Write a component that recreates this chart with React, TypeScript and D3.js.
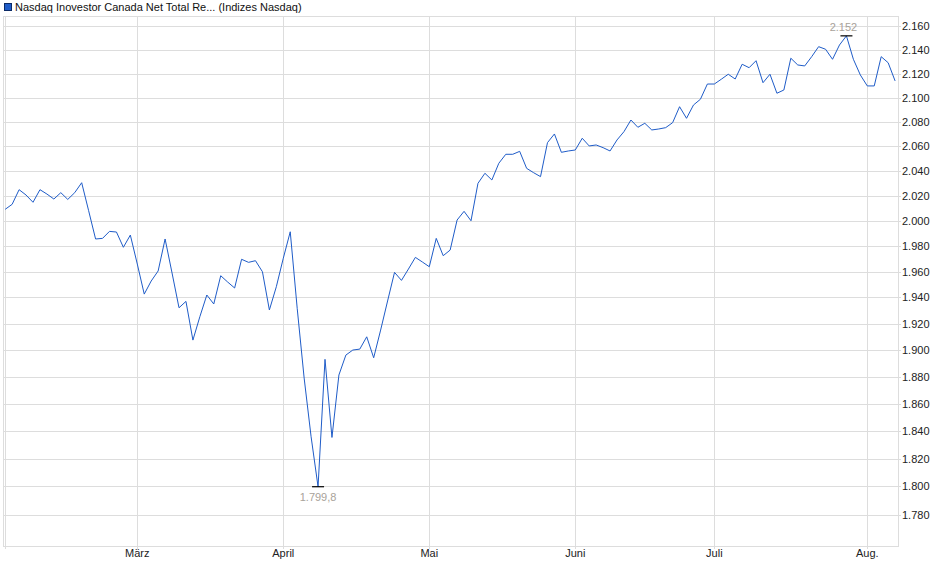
import React from "react";
import * as d3 from "d3";

// trading days (2025), Feb 3 .. Aug 7
const dates: string[] = [
  "2025-02-03", "2025-02-04", "2025-02-05", "2025-02-06", "2025-02-07", "2025-02-10", "2025-02-11", "2025-02-12",
  "2025-02-13", "2025-02-14", "2025-02-18", "2025-02-19", "2025-02-20", "2025-02-21", "2025-02-24", "2025-02-25",
  "2025-02-26", "2025-02-27", "2025-02-28",
  "2025-03-03", "2025-03-04", "2025-03-05", "2025-03-06", "2025-03-07", "2025-03-10", "2025-03-11", "2025-03-12",
  "2025-03-13", "2025-03-14", "2025-03-17", "2025-03-18", "2025-03-19", "2025-03-20", "2025-03-21", "2025-03-24",
  "2025-03-25", "2025-03-26", "2025-03-27", "2025-03-28", "2025-03-31",
  "2025-04-01", "2025-04-02", "2025-04-03", "2025-04-04", "2025-04-07", "2025-04-08", "2025-04-09", "2025-04-10",
  "2025-04-11", "2025-04-14", "2025-04-15", "2025-04-16", "2025-04-17", "2025-04-21", "2025-04-22", "2025-04-23",
  "2025-04-24", "2025-04-25", "2025-04-28", "2025-04-29", "2025-04-30",
  "2025-05-01", "2025-05-02", "2025-05-05", "2025-05-06", "2025-05-07", "2025-05-08", "2025-05-09", "2025-05-12",
  "2025-05-13", "2025-05-14", "2025-05-15", "2025-05-16", "2025-05-19", "2025-05-20", "2025-05-21", "2025-05-22",
  "2025-05-23", "2025-05-27", "2025-05-28", "2025-05-29", "2025-05-30",
  "2025-06-02", "2025-06-03", "2025-06-04", "2025-06-05", "2025-06-06", "2025-06-09", "2025-06-10", "2025-06-11",
  "2025-06-12", "2025-06-13", "2025-06-16", "2025-06-17", "2025-06-18", "2025-06-20", "2025-06-23", "2025-06-24",
  "2025-06-25", "2025-06-26", "2025-06-27", "2025-06-30",
  "2025-07-01", "2025-07-02", "2025-07-03", "2025-07-07", "2025-07-08", "2025-07-09", "2025-07-10", "2025-07-11",
  "2025-07-14", "2025-07-15", "2025-07-16", "2025-07-17", "2025-07-18", "2025-07-21", "2025-07-22", "2025-07-23",
  "2025-07-24", "2025-07-25", "2025-07-28", "2025-07-29", "2025-07-30", "2025-07-31",
  "2025-08-01", "2025-08-04", "2025-08-05", "2025-08-06", "2025-08-07",
];

const values: number[] = [
  2009.0, 2013.0, 2024.7, 2020.4, 2014.6, 2024.7, 2021.2, 2017.2, 2022.3, 2016.9,
  2022.3, 2030.3, 2007.9, 1985.5, 1986.0, 1991.5, 1991.0, 1979.0, 1988.6, 1965.9,
  1942.6, 1952.7, 1960.5, 1985.5, 1958.9, 1932.1, 1937.0, 1907.5, 1925.3, 1941.9,
  1935.0, 1956.8, 1951.9, 1947.3, 1969.6, 1967.2, 1968.5, 1959.9, 1930.4, 1948.3,
  1970.4, 1991.2, 1931.7, 1879.0, 1835.8, 1799.8, 1893.0, 1835.3, 1881.3, 1896.2,
  1900.0, 1900.7, 1910.0, 1894.2, 1915.1, 1937.3, 1959.4, 1953.2, 1962.0, 1971.1,
  1967.5, 1963.8, 1986.0, 1972.4, 1976.8, 2000.5, 2007.4, 1999.9, 2029.8, 2037.9,
  2032.5, 2046.0, 2053.3, 2053.3, 2055.7, 2041.9, 2038.4, 2035.2, 2062.8, 2069.9,
  2054.9, 2056.0, 2056.8, 2066.4, 2060.1, 2060.9, 2058.7, 2056.0, 2065.0, 2071.8,
  2081.4, 2075.4, 2078.7, 2073.2, 2074.0, 2075.1, 2079.2, 2092.4, 2082.8, 2093.8,
  2098.6, 2111.3, 2111.3, 2115.3, 2119.5, 2115.5, 2127.9, 2125.0, 2130.9, 2112.4,
  2119.5, 2103.6, 2106.3, 2133.0, 2127.3, 2126.5, 2134.3, 2142.8, 2140.6, 2132.1,
  2144.2, 2152.0, 2132.1, 2118.9, 2109.7, 2109.7, 2134.3, 2129.2, 2113.9,
];

const monthLabels: string[] = ["", "März", "April", "Mai", "Juni", "Juli", "Aug."];
const yTicks: number[] = [1780, 1800, 1820, 1840, 1860, 1880, 1900, 1920, 1940, 1960, 1980, 2000, 2020, 2040, 2060, 2080, 2100, 2120, 2140, 2160];
const title = "Nasdaq Inovestor Canada Net Total Re... (Indizes Nasdaq)";

const W = 940;
const H = 579;
const frame = { left: 3, right: 898, top: 16, bottom: 546 };
const lineColor = "#1f5cc8";
const gridColor = "#dddddd";
const font = "'Liberation Sans', Arial, sans-serif";

const de = d3.formatLocale({ decimal: ",", thousands: ".", grouping: [3], currency: ["", "€"] });
const fmtTick = de.format(",.0f");
const fmtExtreme = (v: number) => (Number.isInteger(v) ? de.format(",.0f")(v) : de.format(",.1f")(v));

export default function App() {
  const x = d3.scaleLinear().domain([0, dates.length - 1]).range([5.2, 895.1]);
  const y = d3.scaleLog().domain([1758, 2169]).range([frame.bottom, frame.top]);

  // first trading day of each month -> gridline + label
  const monthStarts: number[] = [];
  dates.forEach((d, i) => {
    if (i === 0 || d.slice(5, 7) !== dates[i - 1].slice(5, 7)) monthStarts.push(i);
  });

  const line = d3.line<number>()
    .x((_, i) => x(i))
    .y((d) => y(d));

  const iMin = d3.minIndex(values);
  const iMax = d3.maxIndex(values);

  return (
    <svg width={W} height={H} style={{ position: "absolute", left: 0, top: 0, background: "#fff" }} fontFamily={font}>
      {/* legend */}
      <rect x={4.5} y={3.5} width={7} height={7} fill={lineColor} stroke="#0b2a66" strokeWidth={1} />
      <text x={15} y={10.5} fontSize={11} fill="#111">{title}</text>

      {/* horizontal grid */}
      {yTicks.map((t) => (
        <line key={"h" + t} x1={frame.left} x2={frame.right + 3} y1={Math.round(y(t)) + 0.5} y2={Math.round(y(t)) + 0.5} stroke={gridColor} />
      ))}
      {/* vertical grid */}
      {monthStarts.map((i) => (
        <line key={"v" + i} x1={Math.round(x(i)) + 0.5} x2={Math.round(x(i)) + 0.5} y1={frame.top} y2={frame.bottom + 3} stroke={gridColor} />
      ))}

      {/* frame */}
      <rect x={frame.left + 0.5} y={frame.top + 0.5} width={frame.right - frame.left} height={frame.bottom - frame.top} fill="none" stroke={gridColor} />

      {/* y labels */}
      {yTicks.map((t) => (
        <text key={"yl" + t} x={902} y={y(t) + 4} fontSize={11} fill="#222">{fmtTick(t)}</text>
      ))}

      {/* x labels */}
      {monthStarts.map((i, k) => (
        <text key={"xl" + i} x={x(i)} y={557} fontSize={11} fill="#222" textAnchor="middle">{monthLabels[k]}</text>
      ))}

      {/* series */}
      <path d={line(values) ?? ""} fill="none" stroke={lineColor} strokeWidth={1} strokeLinejoin="round" />

      {/* high marker */}
      <line x1={x(iMax) - 6} x2={x(iMax) + 6} y1={y(values[iMax])} y2={y(values[iMax])} stroke="#000" strokeWidth={1.2} />
      <text x={x(iMax) - 3} y={y(values[iMax]) - 5} fontSize={11} fill="#a8a29a" textAnchor="middle">{fmtExtreme(values[iMax] / 1000 * 1000)}</text>

      {/* low marker */}
      <line x1={x(iMin) - 6} x2={x(iMin) + 6} y1={y(values[iMin])} y2={y(values[iMin])} stroke="#000" strokeWidth={1.2} />
      <text x={x(iMin)} y={y(values[iMin]) + 14} fontSize={11} fill="#a8a29a" textAnchor="middle">{fmtExtreme(values[iMin])}</text>
    </svg>
  );
}
